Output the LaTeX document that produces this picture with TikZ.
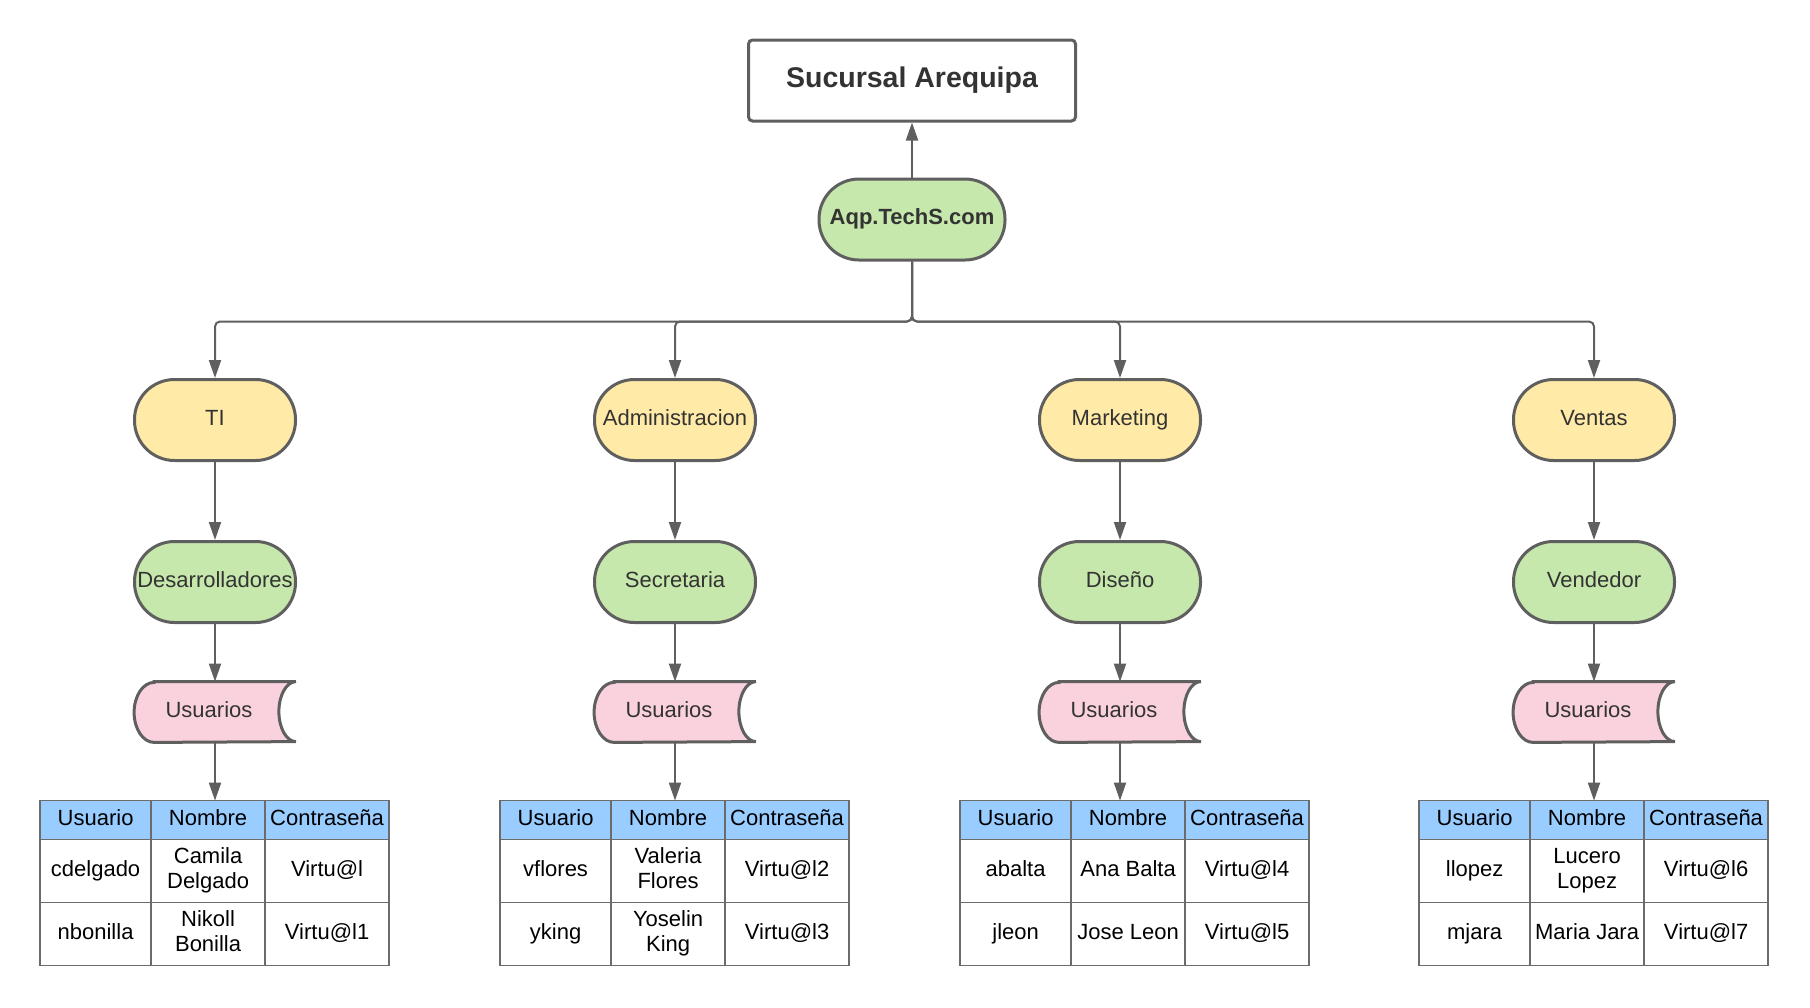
\documentclass[tikz,border=0pt]{standalone}
\usepackage{fontspec}
\setmainfont{Liberation Sans}
\usetikzlibrary{arrows.meta,positioning,backgrounds}

\definecolor{linegray}{HTML}{5F5F5F}
\definecolor{tablegray}{HTML}{6B6B6B}
\definecolor{textgray}{HTML}{333333}
\definecolor{deptyellow}{HTML}{FFEAA7}
\definecolor{rolegreen}{HTML}{C7E8AC}
\definecolor{userpink}{HTML}{FAD2DD}
\definecolor{headblue}{HTML}{99CCFF}

\newcommand{\cellstrut}{\rule[-3pt]{0pt}{11pt}}

\tikzset{
  stadium/.style={rectangle, draw=linegray, line width=1.5pt, rounded corners=20pt, minimum width=80.5pt, minimum height=40.5pt, inner sep=0pt, text=textgray, text height=8pt, text depth=3pt},
  deptbox/.style={stadium, fill=deptyellow},
  rolebox/.style={stadium, fill=rolegreen},
  titlebox/.style={rectangle, draw=linegray, line width=1.5pt, rounded corners=2pt, minimum width=163.5pt, minimum height=40.5pt, text=textgray, text height=10.5pt, text depth=4pt, font=\bfseries\fontsize{14.25}{17}\selectfont},
  storebox/.style={rectangle, minimum width=80.5pt, minimum height=30pt, inner sep=0pt, text=textgray, text height=8pt, text depth=3pt, execute at end node={\hspace*{6pt}}},
  tablebox/.style={rectangle, minimum width=174.5pt, minimum height=82.5pt, inner sep=0pt},
  cell/.style={align=center, text=black, inner sep=0pt, execute at begin node=\cellstrut, execute at end node=\cellstrut},
  arrowline/.style={draw=linegray, line width=1pt, rounded corners=2.5pt, -{Triangle[length=9pt,width=6pt]}}
}

% user table below a tablebox node
\newcommand{\usertable}[7]{%
  \begin{scope}[shift={(#1.north west)}]
    \fill[headblue] (0pt,0pt) rectangle (174.5pt,-19.5pt);
    \draw[tablegray, line width=0.75pt] (0pt,0pt) rectangle (174.5pt,-82.5pt)
      (0pt,-19.5pt) -- (174.5pt,-19.5pt) (0pt,-51pt) -- (174.5pt,-51pt)
      (55.5pt,0pt) -- (55.5pt,-82.5pt) (112.5pt,0pt) -- (112.5pt,-82.5pt);
    \node[cell] at (27.75pt,-9.75pt) {Usuario};
    \node[cell] at (84pt,-9.75pt) {Nombre};
    \node[cell] at (143.5pt,-9.75pt) {Contraseña};
    \node[cell] at (27.75pt,-35.25pt) {#2};
    \node[cell] at (84pt,-35.25pt) {#3};
    \node[cell] at (143.5pt,-35.25pt) {#4};
    \node[cell] at (27.75pt,-66.75pt) {#5};
    \node[cell] at (84pt,-66.75pt) {#6};
    \node[cell] at (143.5pt,-66.75pt) {#7};
  \end{scope}}

\begin{document}
\begin{tikzpicture}[every node/.style={font=\fontsize{11}{12.5}\selectfont},
    edge from parent/.style={arrowline},
    level 1/.style={level distance=100.25pt, sibling distance=230pt,
      edge from parent path={(\tikzparentnode.south) -- ++(0,-30pt) -| (\tikzchildnode.north)}},
    level 2/.style={level distance=81pt,
      edge from parent path={(\tikzparentnode.south) -- (\tikzparentnode.south |- \tikzchildnode.north)}},
    level 3/.style={level distance=65pt},
    level 4/.style={level distance=85.75pt}]
  \useasboundingbox (0pt,0pt) rectangle (905pt,-503.5pt);

  \node[rolebox, minimum width=93pt, font=\bfseries\fontsize{11}{12.5}\selectfont] (aqp) at (456pt,-109.75pt) {Aqp.TechS.com}
    child[xshift=-3.5pt] {node[deptbox] (ti) {TI}
      child {node[rolebox] (dev) {Desarrolladores}
        child {node[storebox] (u1) {Usuarios}
          child {node[tablebox] (t1) {}}}}}
    child[xshift=-3.5pt] {node[deptbox] (adm) {Administracion}
      child {node[rolebox] (sec) {Secretaria}
        child {node[storebox] (u2) {Usuarios}
          child {node[tablebox] (t2) {}}}}}
    child[xshift=-11pt] {node[deptbox] (mkt) {Marketing}
      child {node[rolebox] (dis) {Diseño}
        child {node[storebox] (u3) {Usuarios}
          child[xshift=7.5pt] {node[tablebox] (t3) {}}}}}
    child[xshift=-4pt] {node[deptbox] (ven) {Ventas}
      child {node[rolebox] (vend) {Vendedor}
        child {node[storebox] (u4) {Usuarios}
          child {node[tablebox] (t4) {}}}}};

  \node[titlebox, above=27.5pt of aqp] (sucursal) {Sucursal Arequipa};
  \draw[arrowline] (aqp) -- (sucursal);

  \begin{scope}[on background layer]
    \foreach \u in {u1,u2,u3,u4}
      \draw[draw=linegray, fill=userpink, line width=1.5pt]
        ([xshift=10pt]\u.north west) -- (\u.north east)
        arc[start angle=90, end angle=270, x radius=8.5pt, y radius=15pt]
        -- ([xshift=10pt]\u.south west)
        arc[start angle=270, end angle=90, x radius=10pt, y radius=15pt] -- cycle;
  \end{scope}

  \usertable{t1}{cdelgado}{Camila\\Delgado}{Virtu@l}{nbonilla}{Nikoll\\Bonilla}{Virtu@l1}
  \usertable{t2}{vflores}{Valeria\\Flores}{Virtu@l2}{yking}{Yoselin\\King}{Virtu@l3}
  \usertable{t3}{abalta}{Ana Balta}{Virtu@l4}{jleon}{Jose Leon}{Virtu@l5}
  \usertable{t4}{llopez}{Lucero\\Lopez}{Virtu@l6}{mjara}{Maria Jara}{Virtu@l7}
\end{tikzpicture}
\end{document}
